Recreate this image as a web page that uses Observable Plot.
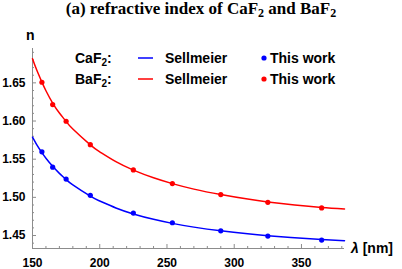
<!DOCTYPE html>
<html><head><meta charset="utf-8">
<script src="https://cdn.jsdelivr.net/npm/d3@7"></script>
<script src="https://cdn.jsdelivr.net/npm/@observablehq/plot@0.6"></script>
<style>
body{margin:0;background:#fff;}
#wrap{position:relative;width:402px;height:269px;overflow:hidden;font-family:"Liberation Sans",Arial,sans-serif;}
#title{height:20px;text-align:center;font:bold 17px "Liberation Serif",serif;line-height:18px;white-space:nowrap;}
#title sub{font-size:12px;vertical-align:-3px;line-height:0;}
.lab{position:absolute;font-weight:bold;font-size:14px;line-height:16px;white-space:nowrap;}
.lab sub{font-size:10px;vertical-align:-3px;line-height:0;}
</style></head>
<body><div id="wrap"><div id="title">(a) refractive index of CaF<sub>2</sub> and BaF<sub>2</sub></div><div id="chart"></div></div>
<script>
// measured points ("This work")
const wavelengths = [157, 165, 175, 193, 225, 254, 290, 325, 365];
const caf2Measured = [1.5596, 1.5396, 1.5239, 1.5026, 1.4794, 1.4667, 1.4562, 1.4493, 1.4440];
const baf2Measured = [1.6508, 1.6216, 1.5997, 1.5690, 1.5359, 1.5180, 1.5036, 1.4935, 1.4862];
// Sellmeier curves
const curveWavelengths = [150, 153, 157, 160, 165, 170, 175, 180, 193, 200, 212, 225, 240, 254, 270, 290, 310, 325, 345, 365, 382];
const caf2Sellmeier = [1.5788, 1.5695, 1.5586, 1.5513, 1.5406, 1.5314, 1.5234, 1.5163, 1.5015, 1.4952, 1.4861, 1.4783, 1.4712, 1.4659, 1.4610, 1.4561, 1.4522, 1.4498, 1.4471, 1.4449, 1.4433];
const baf2Sellmeier = [1.6816, 1.6675, 1.6510, 1.6397, 1.6234, 1.6104, 1.5994, 1.5895, 1.5687, 1.5596, 1.5467, 1.5357, 1.5256, 1.5180, 1.5108, 1.5037, 1.4977, 1.4940, 1.4900, 1.4868, 1.4848];
// axes
const xDomain = [150, 382];
const yDomain = [1.433, 1.695];
const xTicks = [150, 200, 250, 300, 350];
const xMinor = [160, 170, 180, 190, 210, 220, 230, 240, 260, 270, 280, 290, 310, 320, 330, 340, 360, 370, 380];
const yTicks = [1.45, 1.50, 1.55, 1.60, 1.65];
const yMinor = [1.44, 1.46, 1.47, 1.48, 1.49, 1.51, 1.52, 1.53, 1.54, 1.56, 1.57, 1.58, 1.59, 1.61, 1.62, 1.63, 1.64, 1.66, 1.67, 1.68, 1.69];
// series
const materials = ["CaF₂", "BaF₂"];
const colors = ["#0000ff", "#ff0000"];
const axisGray = "#8c8c8c";

const curves = curveWavelengths.flatMap((w, i) => [
  {w, n: caf2Sellmeier[i], m: materials[0]},
  {w, n: baf2Sellmeier[i], m: materials[1]}
]);
const points = wavelengths.flatMap((w, i) => [
  {w, n: caf2Measured[i], m: materials[0]},
  {w, n: baf2Measured[i], m: materials[1]}
]);

const chart = Plot.plot({
  width: 402, height: 249,
  marginLeft: 32, marginRight: 58, marginTop: 28, marginBottom: 21,
  x: {domain: xDomain},
  y: {domain: yDomain},
  color: {domain: materials, range: colors},
  style: {fontFamily: "'Liberation Sans', Arial, sans-serif", fontSize: "12px", fontWeight: "bold", background: "white", color: "black", overflow: "visible"},
  marks: [
    Plot.ruleX([xDomain[0]], {stroke: axisGray}),
    Plot.ruleY([yDomain[0]], {stroke: axisGray}),
    Plot.axisX({ticks: xMinor, tickSize: -2, tickFormat: () => "", stroke: axisGray, label: null}),
    Plot.axisX({ticks: xTicks, tickSize: -4, tickPadding: 14, stroke: axisGray, fill: "black", label: null}),
    Plot.axisY({ticks: yMinor, tickSize: -2, tickFormat: () => "", stroke: axisGray, label: null}),
    Plot.axisY({ticks: yTicks, tickSize: -4, tickPadding: 11, tickFormat: d => d.toFixed(2), stroke: axisGray, fill: "black", label: null}),
    Plot.line(curves, {x: "w", y: "n", z: "m", stroke: "m", strokeWidth: 1.5, curve: "natural"}),
    Plot.dot(points, {x: "w", y: "n", fill: "m", r: 2.6})
  ]
});
document.getElementById("chart").appendChild(chart);

// axis labels and legend (HTML overlay)
const wrap = document.getElementById("wrap");
function lab(html, left, top) {
  const d = document.createElement("div");
  d.className = "lab"; d.innerHTML = html;
  d.style.left = left + "px"; d.style.top = top + "px";
  wrap.appendChild(d); return d;
}
lab("n", 26, 27);
lab("<i>λ</i> [nm]", 351, 240);
const rows = [58, 79];
materials.forEach((m, i) => {
  const top = rows[i] - 8;
  lab(m.replace("₂", "<sub>2</sub>") + ":", 75, top);
  lab(`<svg width="16" height="16" style="display:block"><line x1="0" x2="15" y1="8" y2="8" stroke="${colors[i]}" stroke-width="1.5"/></svg>`, 138, top);
  lab("Sellmeier", 165, top);
  lab(`<svg width="8" height="16" style="display:block"><circle cx="4" cy="8" r="2.6" fill="${colors[i]}"/></svg>`, 260, top);
  lab("This work", 270, top);
});
</script>
</body></html>
